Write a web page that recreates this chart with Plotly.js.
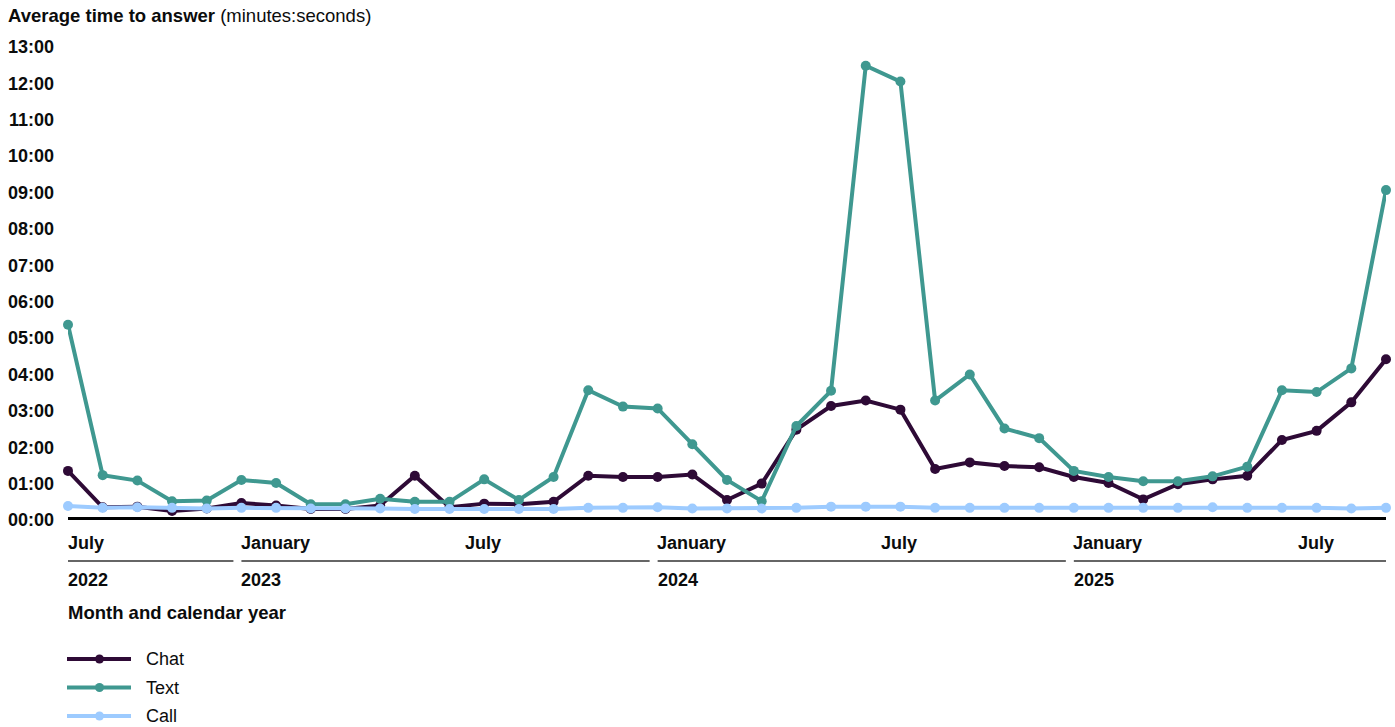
<!DOCTYPE html>
<html>
<head>
<meta charset="utf-8">
<script src="https://cdn.plot.ly/plotly-3.0.1.min.js"></script>
<style>
  html, body { margin: 0; padding: 0; background: #ffffff; }
  #chart { width: 1395px; height: 727px; }
</style>
</head>
<body>
<div id="chart"></div>
<script>
// ---- Data (values in seconds) ----
const months = [
  '2022-07','2022-08','2022-09','2022-10','2022-11','2022-12',
  '2023-01','2023-02','2023-03','2023-04','2023-05','2023-06',
  '2023-07','2023-08','2023-09','2023-10','2023-11','2023-12',
  '2024-01','2024-02','2024-03','2024-04','2024-05','2024-06',
  '2024-07','2024-08','2024-09','2024-10','2024-11','2024-12',
  '2025-01','2025-02','2025-03','2025-04','2025-05','2025-06',
  '2025-07','2025-08','2025-09'
];
const chatSeconds = [81,21,22,15,19,28,24,18,18,24,73,21,27,26,30,73,71,71,75,33,60,149,188,197,182,84,95,89,87,71,61,34,59,67,73,132,147,194,265];
const textSeconds = [322,74,65,31,32,66,61,26,26,35,30,30,67,33,71,214,187,184,125,66,31,155,213,749,723,197,240,151,135,81,71,64,64,72,88,214,211,250,544];
const callSeconds = [23,20,21,20,19,20,20,19,19,19,18,18,18,18,18,20,20,21,19,19,19,20,22,22,22,20,20,20,20,20,20,20,20,21,20,20,20,19,20];

const seriesNames = ['Chat','Text','Call'];
const seriesColors = ['#2e0a36','#3f9890','#9dcbff'];

const yTickVals = [0,60,120,180,240,300,360,420,480,540,600,660,720,780];
const yTickText = ['00:00','01:00','02:00','03:00','04:00','05:00','06:00','07:00','08:00','09:00','10:00','11:00','12:00','13:00'];

const monthTickAt = ['2022-07','2023-01','2023-07','2024-01','2024-07','2025-01','2025-07'];
const monthTickText = ['July','January','July','January','July','January','July'];
const years = ['2022','2023','2024','2025'];
const yearFirstMonth = ['2022-07','2023-01','2024-01','2025-01'];

// ---- Layout geometry ----
const W = 1395, H = 727;
const L = 68, R = 1386, T = 47, B = 520;
const pw = R - L, ph = B - T;
const px2x = px => (px - L) / pw;
const py2y = py => (B - py) / ph;

const FONT = '"Liberation Sans", Arial, Helvetica, sans-serif';

function fmt(s) {
  const m = Math.floor(s / 60), r = s % 60;
  return String(m).padStart(2,'0') + ':' + String(r).padStart(2,'0');
}

const allSeries = [chatSeconds, textSeconds, callSeconds];
const traces = allSeries.map((vals, k) => ({
  type: 'scatter',
  mode: 'lines+markers',
  name: seriesNames[k],
  x: months,
  y: vals,
  text: vals.map(fmt),
  hovertemplate: '%{x}: %{text}<extra>' + seriesNames[k] + '</extra>',
  line: { color: seriesColors[k], width: 4 },
  marker: { color: seriesColors[k], size: 10 },
  cliponaxis: false,
  showlegend: false
}));

const shapes = [];
const annotations = [];

// heavy baseline
shapes.push({
  type: 'line', xref: 'x', yref: 'y',
  x0: 0, x1: months.length - 1, y0: 0, y1: 0,
  line: { color: '#000000', width: 6 }, layer: 'below'
});

// month labels
monthTickAt.forEach((m, i) => {
  const idx = months.indexOf(m);
  annotations.push({
    xref: 'x', yref: 'paper', x: idx, y: py2y(543),
    text: '<b>' + monthTickText[i] + '</b>', showarrow: false,
    xanchor: idx === 0 ? 'left' : 'center', yanchor: 'middle',
    xshift: idx === 0 ? -2 : -1,
    font: { family: FONT, size: 18, color: '#0b0c0c' }
  });
});

// year separator lines and labels
const yearStarts = yearFirstMonth.map((m, i) => {
  const idx = months.indexOf(m);
  return i === 0 ? idx : idx - 1;
});
const gapUnits = 8 / (pw / (months.length - 1));
years.forEach((yr, i) => {
  const s = yearStarts[i];
  const e = i < years.length - 1 ? yearStarts[i + 1] - gapUnits : months.length - 1;
  shapes.push({
    type: 'line', xref: 'x', yref: 'paper',
    x0: s, x1: e, y0: py2y(561), y1: py2y(561),
    line: { color: '#333333', width: 1.5 }
  });
  annotations.push({
    xref: 'x', yref: 'paper', x: s, y: py2y(580),
    text: '<b>' + yr + '</b>', showarrow: false,
    xanchor: 'left', yanchor: 'middle', xshift: -2,
    font: { family: FONT, size: 18, color: '#0b0c0c' }
  });
});

// x axis title
annotations.push({
  xref: 'paper', yref: 'paper', x: px2x(67), y: py2y(612),
  text: '<b>Month and calendar year</b>', showarrow: false,
  xanchor: 'left', yanchor: 'middle', xshift: -1,
  font: { family: FONT, size: 18.5, color: '#0b0c0c' }
});

// legend (manual)
const legendY = [659, 687.5, 716];
seriesNames.forEach((nm, k) => {
  const yy = py2y(legendY[k]);
  shapes.push({
    type: 'line', xref: 'paper', yref: 'paper',
    x0: px2x(67), x1: px2x(131), y0: yy, y1: yy,
    line: { color: seriesColors[k], width: 4 }
  });
  shapes.push({
    type: 'circle', xref: 'paper', yref: 'paper',
    x0: px2x(95), x1: px2x(104), y0: py2y(legendY[k] + 4.5), y1: py2y(legendY[k] - 4.5),
    fillcolor: seriesColors[k], line: { color: seriesColors[k], width: 0 }
  });
  annotations.push({
    xref: 'paper', yref: 'paper', x: px2x(145), y: yy,
    text: nm, showarrow: false, xanchor: 'left', yanchor: 'middle', xshift: -1,
    font: { family: FONT, size: 18, color: '#0b0c0c' }
  });
});

const layout = {
  width: W, height: H,
  margin: { l: L, r: W - R, t: T, b: H - B, pad: 0 },
  paper_bgcolor: '#ffffff', plot_bgcolor: '#ffffff',
  showlegend: false,
  title: {
    text: '<b>Average time to answer</b> (minutes:seconds)',
    xref: 'container', yref: 'container',
    x: 8 / W, xanchor: 'left',
    y: 1 - 16 / H, yanchor: 'middle',
    font: { family: FONT, size: 18.5, color: '#0b0c0c' }
  },
  xaxis: {
    type: 'category',
    range: [0, months.length - 1],
    showgrid: false, zeroline: false, showline: false,
    showticklabels: false, ticks: '', fixedrange: true
  },
  yaxis: {
    range: [0, 780],
    tickvals: yTickVals, ticktext: yTickText,
    showgrid: false, zeroline: false, showline: false, ticks: '',
    ticklabelstandoff: 13,
    tickfont: { family: FONT, size: 18, color: '#0b0c0c', weight: 'bold' },
    fixedrange: true
  },
  shapes: shapes,
  annotations: annotations,
  font: { family: FONT, color: '#0b0c0c' }
};

Plotly.newPlot('chart', traces, layout, { displayModeBar: false, staticPlot: false, responsive: false });
</script>
</body>
</html>
